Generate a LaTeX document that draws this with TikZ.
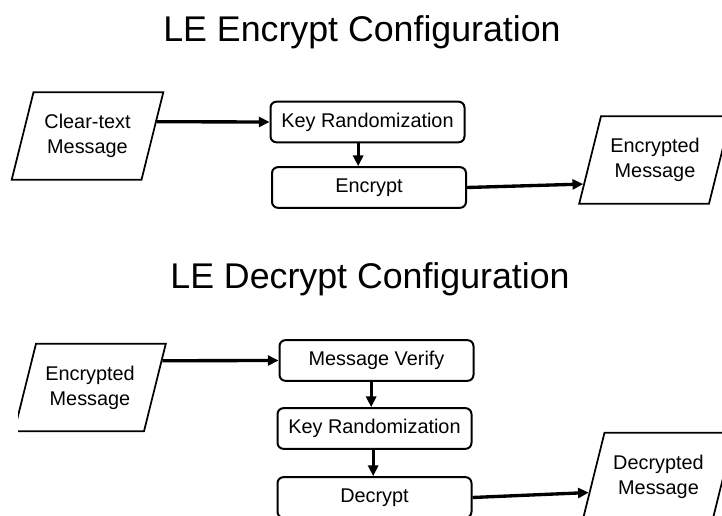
\documentclass[tikz,border=0pt]{standalone}
\usepackage{fontspec}
\setmainfont{Liberation Sans}
\usepackage{tikz}
\usetikzlibrary{arrows.meta, positioning, shapes.geometric, calc}

\begin{document}
\begin{tikzpicture}[
    x=0.75pt, y=-0.75pt,
    heading/.style={anchor=base, inner sep=0pt, font=\fontsize{26.8}{32}\selectfont},
    msg/.style={trapezium, trapezium left angle=76, trapezium right angle=104, draw, line width=1.3pt, text width=68pt, align=center, inner xsep=6.5pt, inner ysep=16.5pt, font=\fontsize{14.9}{18.7}\selectfont},
    proc/.style={rectangle, rounded corners=4.5pt, draw, line width=1.5pt, minimum width=145.5pt, minimum height=30.5pt, align=center, inner sep=2pt, font=\fontsize{14.9}{18.7}\selectfont},
    arr/.style={-{Triangle[length=8pt, width=7.5pt]}, line width=2.5pt}
]
\useasboundingbox (0,0) rectangle (722,516);
\clip (0,0) rectangle (722,300) (18,300) rectangle (722,516);

% Encrypt configuration
\node[heading] (titleEnc) at (362,42) {LE Encrypt Configuration};
\node[msg] (clearMsg) at (87.5,136) {Clear-text\\Message};
\node[proc] (keyEnc) at (367.5,122) {Key Randomization};
\node[proc] (encrypt) at (369,187.5) {Encrypt};
\node[msg] (encMsgOut) at (655,160) {Encrypted\\Message};

\draw[arr] ($(clearMsg.top right corner)!0.34!(clearMsg.bottom right corner)$) -- (keyEnc.west);
\draw[arr] ([xshift=-7pt]keyEnc.south) -- ([xshift=-7pt]keyEnc.south |- encrypt.north);
\draw[arr] (encrypt.east) -- ($(encMsgOut.top left corner)!0.77!(encMsgOut.bottom left corner)$);

% Decrypt configuration
\node[heading] (titleDec) at (370,289) {LE Decrypt Configuration};
\node[msg] (encMsgIn) at (90,387.5) {Encrypted\\Message};
\node[proc] (verify) at (376.5,360.5) {Message Verify};
\node[proc] (keyDec) at (374.5,428.5) {Key Randomization};
\node[proc] (decrypt) at (374.5,497.5) {Decrypt};
\node[msg] (decMsgOut) at (658.5,476.5) {Decrypted\\Message};

\draw[arr] ($(encMsgIn.top right corner)!0.2!(encMsgIn.bottom right corner)$) -- (verify.west);
\draw[arr] ([xshift=-4pt]verify.south) -- ([xshift=-4pt]verify.south |- keyDec.north);
\draw[arr] ([xshift=-1pt]keyDec.south) -- ([xshift=-1pt]keyDec.south |- decrypt.north);
\draw[arr] (decrypt.east) -- ($(decMsgOut.top left corner)!0.68!(decMsgOut.bottom left corner)$);

\end{tikzpicture}
\end{document}
